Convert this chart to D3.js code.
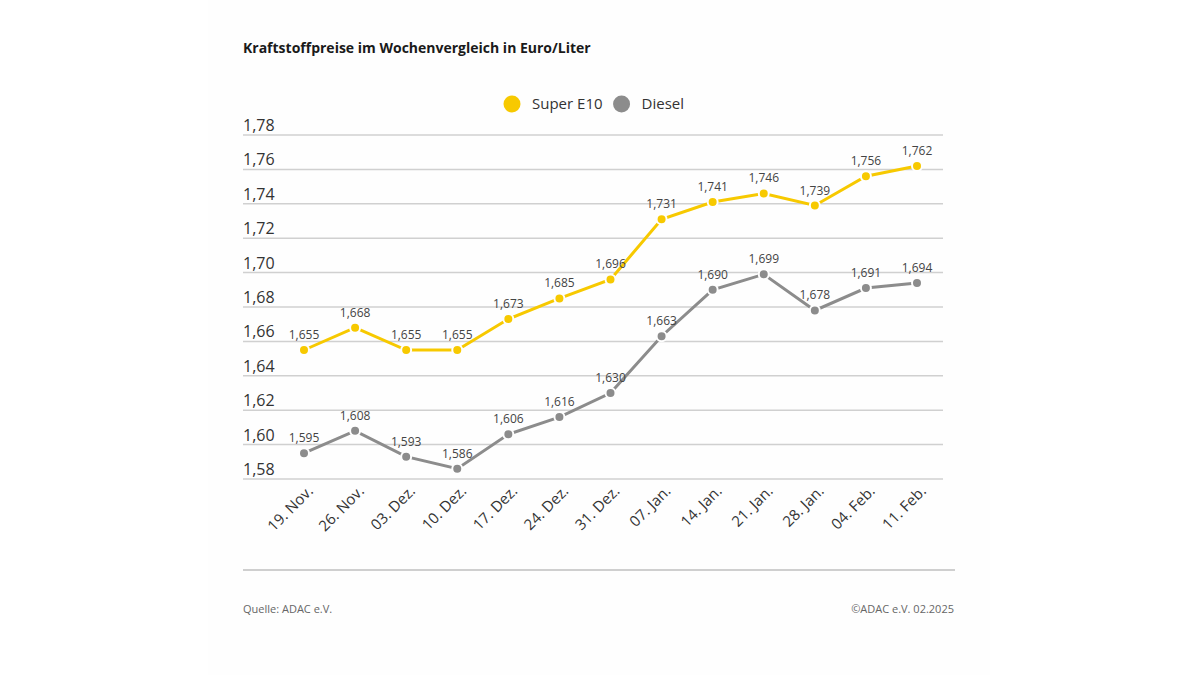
<!DOCTYPE html>
<html>
<head>
<meta charset="utf-8">
<script src="https://d3js.org/d3.v7.min.js"></script>
<style>
  html, body { margin: 0; padding: 0; background: #ffffff; }
  svg { display: block; font-family: "Open Sans", "Noto Sans", sans-serif; }
</style>
</head>
<body>
<div id="chart"></div>
<script>
// Weekly fuel prices (Euro/Liter)
const weeks = ["19. Nov.", "26. Nov.", "03. Dez.", "10. Dez.", "17. Dez.", "24. Dez.", "31. Dez.",
               "07. Jan.", "14. Jan.", "21. Jan.", "28. Jan.", "04. Feb.", "11. Feb."];
const superE10 = [1.655, 1.668, 1.655, 1.655, 1.673, 1.685, 1.696, 1.731, 1.741, 1.746, 1.739, 1.756, 1.762];
const diesel = [1.595, 1.608, 1.593, 1.586, 1.606, 1.616, 1.630, 1.663, 1.690, 1.699, 1.678, 1.691, 1.694];
const yTicks = [1.58, 1.60, 1.62, 1.64, 1.66, 1.68, 1.70, 1.72, 1.74, 1.76, 1.78];
const seriesNames = ["Super E10", "Diesel"];

const width = 1200, height = 675;
const colors = { "Super E10": "#f7c900", "Diesel": "#8c8c8c" };

const svg = d3.select("#chart").append("svg")
    .attr("width", width)
    .attr("height", height);

// card background (barely off-white)
svg.append("rect")
    .attr("x", 208).attr("y", 0)
    .attr("width", 782).attr("height", height)
    .attr("fill", "#fefefe");

svg.append("text")
    .attr("x", 243).attr("y", 53)
    .attr("font-size", 14)
    .attr("font-weight", "bold")
    .attr("fill", "#1a1a1a")
    .text("Kraftstoffpreise im Wochenvergleich in Euro/Liter");

const x = d3.scalePoint().domain(weeks).range([304, 917]);
const y = d3.scaleLinear().domain([1.58, 1.78]).range([479, 135]);
const fmt = v => d3.format(".2f")(v).replace(".", ",");
const fmt3 = v => d3.format(".3f")(v).replace(".", ",");

// gridlines + y labels
const grid = svg.append("g");
grid.selectAll("line")
    .data(yTicks)
    .enter().append("line")
        .attr("x1", 243).attr("x2", 943)
        .attr("y1", d => y(d)).attr("y2", d => y(d))
        .attr("stroke", "#d0d0d0")
        .attr("stroke-width", 1.5);
grid.selectAll("text")
    .data(yTicks)
    .enter().append("text")
        .attr("x", 243)
        .attr("y", d => y(d) - 4)
        .attr("font-size", 16)
        .attr("fill", "#333")
        .text(fmt);

// x labels, rotated
svg.append("g").selectAll("text")
    .data(weeks)
    .enter().append("text")
        .attr("transform", d => `translate(${x(d) + 10},${492}) rotate(-45)`)
        .attr("text-anchor", "end")
        .attr("font-size", 15)
        .attr("fill", "#333")
        .text(d => d);

// legend
const legend = svg.append("g");
let lx = 512;
seriesNames.forEach(name => {
    legend.append("circle")
        .attr("cx", lx).attr("cy", 104).attr("r", 8.5)
        .attr("fill", colors[name]);
    const t = legend.append("text")
        .attr("x", lx + 20).attr("y", 109)
        .attr("font-size", 15)
        .attr("fill", "#333")
        .text(name);
    lx += 20 + t.node().getComputedTextLength() + 19;
});

// lines and points
const series = [
    { name: "Super E10", values: superE10 },
    { name: "Diesel", values: diesel }
];
const line = d3.line()
    .x((d, i) => x(weeks[i]))
    .y(d => y(d));

series.forEach(s => {
    const g = svg.append("g");
    g.append("path")
        .attr("d", line(s.values))
        .attr("fill", "none")
        .attr("stroke", colors[s.name])
        .attr("stroke-width", 3);
    g.selectAll("circle")
        .data(s.values)
        .enter().append("circle")
            .attr("cx", (d, i) => x(weeks[i]))
            .attr("cy", d => y(d))
            .attr("r", 5)
            .attr("fill", colors[s.name])
            .attr("stroke", "#fefefe")
            .attr("stroke-width", 2);
    g.selectAll("text")
        .data(s.values)
        .enter().append("text")
            .attr("x", (d, i) => x(weeks[i]))
            .attr("y", d => y(d) - 11)
            .attr("text-anchor", "middle")
            .attr("font-size", 12)
            .attr("fill", "#444")
            .text(fmt3);
});

// bottom rule and footer
svg.append("line")
    .attr("x1", 243).attr("x2", 955)
    .attr("y1", 570).attr("y2", 570)
    .attr("stroke", "#cfcfcf")
    .attr("stroke-width", 2);

svg.append("text")
    .attr("x", 243).attr("y", 613)
    .attr("font-size", 11)
    .attr("fill", "#666")
    .text("Quelle: ADAC e.V.");

svg.append("text")
    .attr("x", 954).attr("y", 613)
    .attr("text-anchor", "end")
    .attr("font-size", 11)
    .attr("fill", "#666")
    .text("©ADAC e.V. 02.2025");
</script>
</body>
</html>
